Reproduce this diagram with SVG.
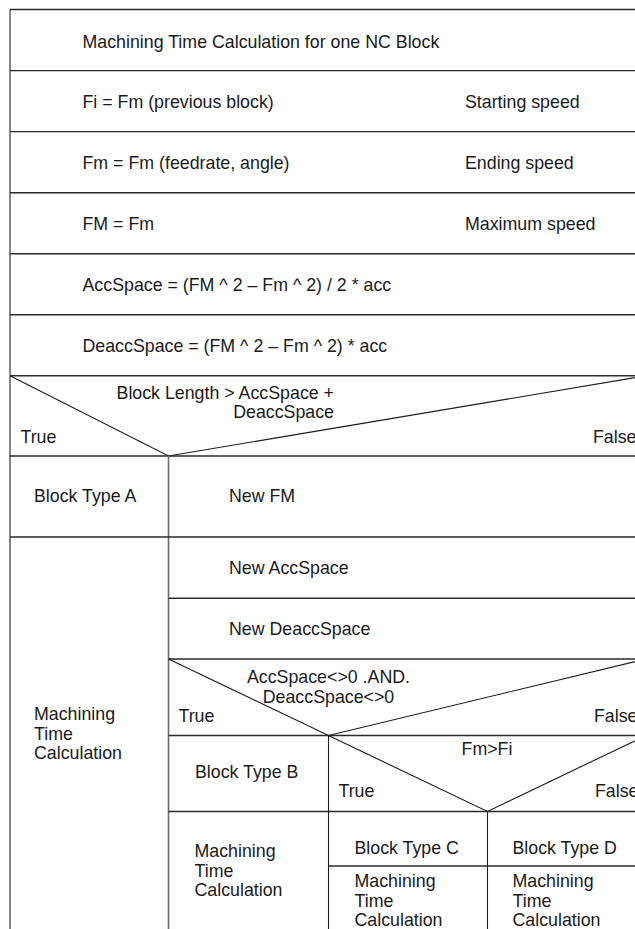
<svg xmlns="http://www.w3.org/2000/svg" width="635" height="929" viewBox="0 0 635 929">
  <style>
    .t { font-family: "Liberation Sans", Arial, sans-serif; font-size: 17.8px; fill: #1a1a1a; }
    .m { text-anchor: middle; }
    .e { text-anchor: end; }
    .h { stroke: #2a2a2a; stroke-width: 1.4; fill: none; }
    .vg { stroke: #6a6a6a; stroke-width: 1.6; fill: none; }
    .v { stroke: #1a1a1a; stroke-width: 1.1; fill: none; }
    .d { stroke: #1a1a1a; stroke-width: 1.1; fill: none; }
  </style>
  <rect width="635" height="929" fill="#ffffff"/>

  <!-- outer frame -->
  <g id="frame">
    <line class="vg" x1="10" y1="9.5" x2="10" y2="935"/>
  </g>

  <!-- sequential statements -->
  <g id="title">
    <line class="h" x1="10" y1="9.5" x2="646" y2="9.5"/>
    <text class="t" x="82.5" y="47.5">Machining Time Calculation for one NC Block</text>
  </g>
  <g id="fi">
    <line class="h" x1="10" y1="70.6" x2="646" y2="70.6"/>
    <text class="t" x="82.5" y="107.5">Fi = Fm (previous block)</text>
    <text class="t" x="465" y="107.5">Starting speed</text>
  </g>
  <g id="fm">
    <line class="h" x1="10" y1="131.6" x2="646" y2="131.6"/>
    <text class="t" x="82.5" y="168.5">Fm = Fm (feedrate, angle)</text>
    <text class="t" x="465" y="168.5">Ending speed</text>
  </g>
  <g id="fmax">
    <line class="h" x1="10" y1="192.7" x2="646" y2="192.7"/>
    <text class="t" x="82.5" y="229.5">FM = Fm</text>
    <text class="t" x="465" y="229.5">Maximum speed</text>
  </g>
  <g id="accspace">
    <line class="h" x1="10" y1="253.7" x2="646" y2="253.7"/>
    <text class="t" x="82.5" y="290.5">AccSpace = (FM ^ 2 – Fm ^ 2) / 2 * acc</text>
  </g>
  <g id="deaccspace">
    <line class="h" x1="10" y1="314.7" x2="646" y2="314.7"/>
    <text class="t" x="82.5" y="351.5">DeaccSpace = (FM ^ 2 – Fm ^ 2) * acc</text>
  </g>

  <!-- decision: block length -->
  <g id="cond-length">
    <line class="h" x1="10" y1="375.8" x2="646" y2="375.8"/>
    <polyline class="d" points="10,375.8 168.5,456 646,375.8"/>
    <text class="t e" x="334" y="398.5">Block Length &gt; AccSpace +</text>
    <text class="t e" x="334" y="417.5">DeaccSpace</text>
    <text class="t" x="20.5" y="443">True</text>
    <text class="t" x="593" y="443">False</text>
    <line class="h" x1="10" y1="456" x2="646" y2="456"/>
    <line class="vg" x1="168.5" y1="456" x2="168.5" y2="935"/>
  </g>

  <!-- true branch -->
  <g id="block-type-a">
    <text class="t" x="34" y="502">Block Type A</text>
    <line class="h" x1="10" y1="537" x2="646" y2="537"/>
  </g>
  <g id="calc-a">
    <text class="t" x="34" y="720">Machining</text>
    <text class="t" x="34" y="739.5">Time</text>
    <text class="t" x="34" y="759">Calculation</text>
  </g>

  <!-- false branch -->
  <g id="new-fm">
    <text class="t" x="229" y="502">New FM</text>
  </g>
  <g id="new-accspace">
    <text class="t" x="229" y="574">New AccSpace</text>
    <line class="h" x1="168.5" y1="598.3" x2="646" y2="598.3"/>
  </g>
  <g id="new-deaccspace">
    <text class="t" x="229" y="635">New DeaccSpace</text>
    <line class="h" x1="168.5" y1="659" x2="646" y2="659"/>
  </g>

  <!-- decision: both spaces non-zero -->
  <g id="cond-spaces">
    <polyline class="d" points="168.5,659 328.5,735.5 646,659"/>
    <text class="t m" x="328.5" y="683">AccSpace&lt;&gt;0 .AND.</text>
    <text class="t m" x="328.5" y="702.5">DeaccSpace&lt;&gt;0</text>
    <text class="t" x="178.5" y="721.5">True</text>
    <text class="t" x="594" y="721.5">False</text>
    <line class="h" x1="168.5" y1="735.5" x2="646" y2="735.5"/>
    <line class="v" x1="328.5" y1="735.5" x2="328.5" y2="935"/>
  </g>
  <g id="block-type-b">
    <text class="t" x="195" y="778">Block Type B</text>
    <line class="h" x1="168.5" y1="811.5" x2="328.5" y2="811.5"/>
  </g>
  <g id="calc-b">
    <text class="t" x="194.5" y="857">Machining</text>
    <text class="t" x="194.5" y="876.5">Time</text>
    <text class="t" x="194.5" y="896">Calculation</text>
  </g>

  <!-- decision: accelerating or decelerating -->
  <g id="cond-fm-fi">
    <polyline class="d" points="328.5,735.5 487.5,811.5 646,735.5"/>
    <text class="t m" x="487" y="755">Fm&gt;Fi</text>
    <text class="t" x="338.5" y="797">True</text>
    <text class="t" x="595" y="797">False</text>
    <line class="h" x1="328.5" y1="811.5" x2="646" y2="811.5"/>
    <line class="v" x1="487.5" y1="811.5" x2="487.5" y2="935"/>
  </g>
  <g id="block-type-c">
    <text class="t" x="354.5" y="853.5">Block Type C</text>
    <line class="h" x1="328.5" y1="866" x2="487.5" y2="866"/>
  </g>
  <g id="calc-c">
    <text class="t" x="354.5" y="887">Machining</text>
    <text class="t" x="354.5" y="906.5">Time</text>
    <text class="t" x="354.5" y="926">Calculation</text>
  </g>
  <g id="block-type-d">
    <text class="t" x="512.5" y="853.5">Block Type D</text>
    <line class="h" x1="487.5" y1="866" x2="646" y2="866"/>
  </g>
  <g id="calc-d">
    <text class="t" x="512.5" y="887">Machining</text>
    <text class="t" x="512.5" y="906.5">Time</text>
    <text class="t" x="512.5" y="926">Calculation</text>
  </g>
</svg>
